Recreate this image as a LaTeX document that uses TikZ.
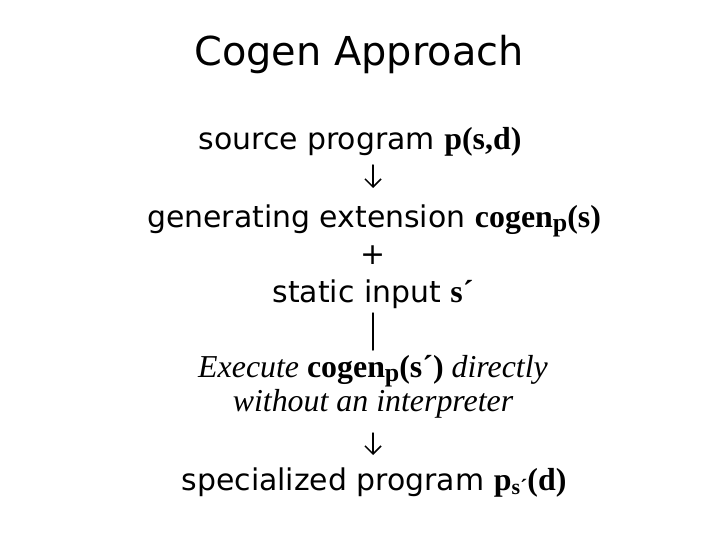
\documentclass[tikz,border=0pt]{standalone}
\usepackage{fontspec}
\setmainfont{Liberation Serif}
\newfontfamily\comicfont{DejaVu Sans}
\usetikzlibrary{positioning,arrows.meta}
\tikzstyle{line}=[inner sep=0pt,anchor=base,font=\comicfont\fontsize{30}{36}\selectfont]
\tikzstyle{note}=[line,font=\rmfamily\itshape\fontsize{32}{38}\selectfont]
\tikzstyle{flow}=[line width=1.5bp,line cap=round]
\newcommand{\prog}[1]{{\rmfamily\upshape\bfseries\fontsize{32}{38}\selectfont #1}}
\newcommand{\lowsub}[2]{\raisebox{-4bp}{\fontsize{#1}{#1}\selectfont #2}}
\newcommand{\newLine}[4]{\node[#3](#1) at (#4){#2};}
\newcommand{\newFlow}[4]{\draw[flow,#4] (#1 -| plus) -- (#2 -| plus);}

\begin{document}
\begin{tikzpicture}[x=1bp,y=-1bp,
      >={Straight Barb[length=8bp,width=16bp]}
      ]
      \useasboundingbox (0,0) rectangle (720,540);
      \newLine{title}{Cogen Approach}{line,font=\comicfont\fontsize{40}{48}\selectfont}{359,66}
      \newLine{src}{source program \prog{p(s,d)}}{line}{360,150}
      \newLine{gen}{generating extension \prog{cogen\lowsub{26}{p}(s)}}{line}{374,228}
      \newLine{plus}{+}{line,anchor=center}{373,255}
      \newLine{inp}{static input \prog{s´}}{line}{373,302}
      \newLine{exe}{Execute \prog{cogen\lowsub{26}{p}(s´)} directly}{note}{373,377}
      \newLine{wo}{without an interpreter}{note}{373,411}
      \newLine{spec}{specialized program \prog{p\lowsub{22}{s´}(d)}}{line}{374,490}
      \newFlow{src.base}{gen.base}{}{->,shorten <=15bp,shorten >=40bp}
      \newFlow{inp.base}{exe.base}{}{shorten <=11bp,shorten >=27bp}
      \newFlow{wo.base}{spec.base}{}{->,shorten <=22bp,shorten >=35bp}
    \end{tikzpicture}
\end{document}
